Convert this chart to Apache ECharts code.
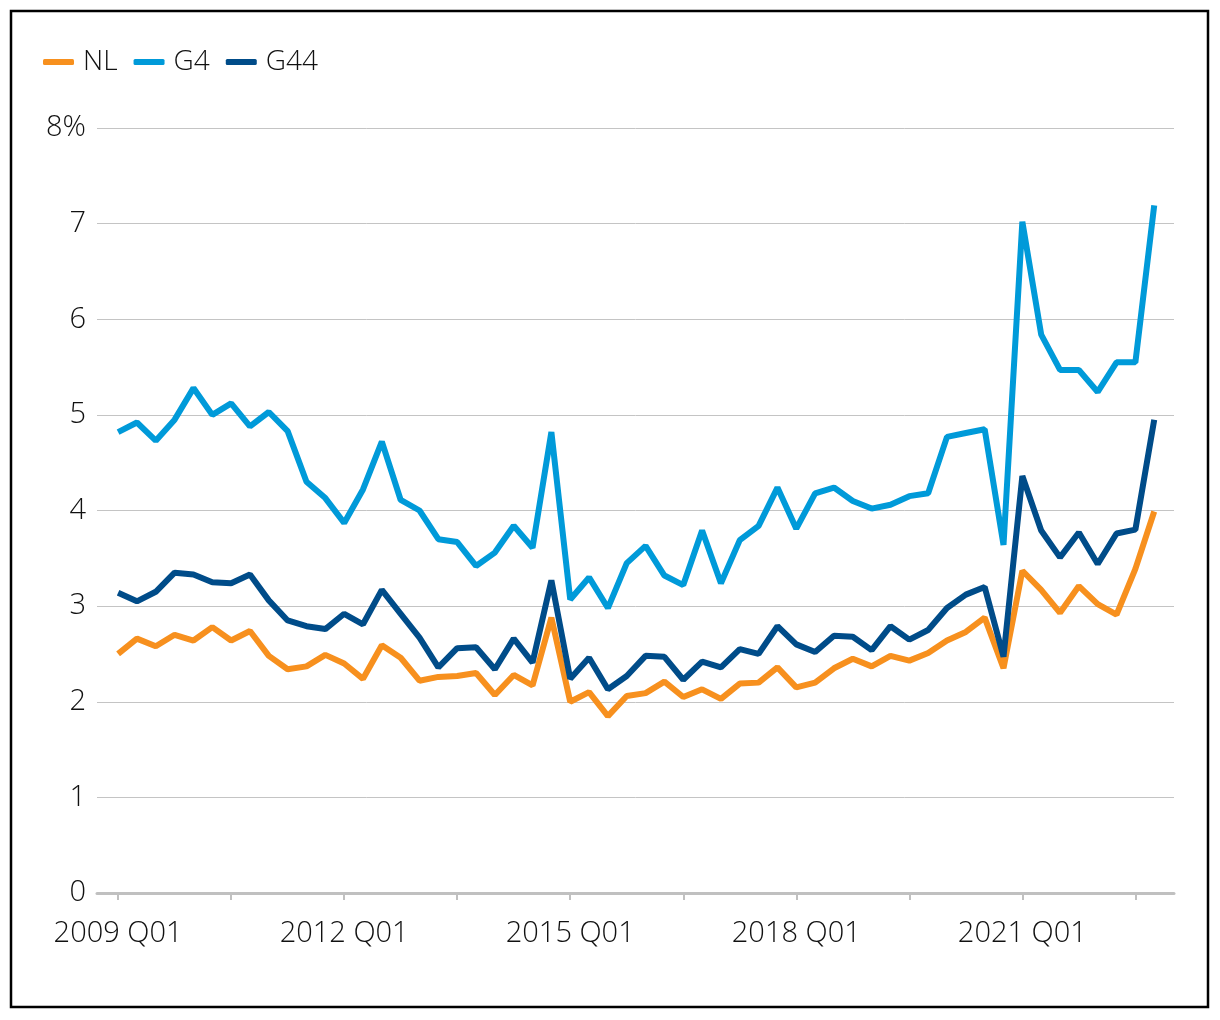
<!DOCTYPE html>
<html>
<head>
<meta charset="utf-8">
<script src="https://cdn.jsdelivr.net/npm/echarts@6/dist/echarts.min.js"></script>
<style>
html,body{margin:0;padding:0;background:#fff;}
#chart{width:1220px;height:1020px;}
</style>
</head>
<body>
<div id="chart"></div>
<script>
var categories = [
  "2009 Q01","2009 Q02","2009 Q03","2009 Q04",
  "2010 Q01","2010 Q02","2010 Q03","2010 Q04",
  "2011 Q01","2011 Q02","2011 Q03","2011 Q04",
  "2012 Q01","2012 Q02","2012 Q03","2012 Q04",
  "2013 Q01","2013 Q02","2013 Q03","2013 Q04",
  "2014 Q01","2014 Q02","2014 Q03","2014 Q04",
  "2015 Q01","2015 Q02","2015 Q03","2015 Q04",
  "2016 Q01","2016 Q02","2016 Q03","2016 Q04",
  "2017 Q01","2017 Q02","2017 Q03","2017 Q04",
  "2018 Q01","2018 Q02","2018 Q03","2018 Q04",
  "2019 Q01","2019 Q02","2019 Q03","2019 Q04",
  "2020 Q01","2020 Q02","2020 Q03","2020 Q04",
  "2021 Q01","2021 Q02","2021 Q03","2021 Q04",
  "2022 Q01","2022 Q02","2022 Q03","2022 Q04"
];

var nl = [
  2.50,2.66,2.58,2.70,2.64,2.78,2.64,2.74,2.48,2.34,2.37,2.49,
  2.40,2.24,2.59,2.46,2.22,2.26,2.27,2.30,2.07,2.28,2.17,2.88,
  2.00,2.10,1.85,2.06,2.09,2.21,2.05,2.13,2.03,2.19,2.20,2.36,
  2.15,2.20,2.35,2.45,2.37,2.48,2.43,2.51,2.64,2.73,2.88,2.35,
  3.37,3.17,2.93,3.21,3.02,2.91,3.39,3.99
];

var g4 = [
  4.82,4.92,4.73,4.95,5.28,5.00,5.12,4.88,5.03,4.83,4.30,4.13,
  3.87,4.22,4.72,4.11,4.00,3.70,3.67,3.42,3.56,3.84,3.61,4.82,
  3.07,3.30,2.98,3.45,3.63,3.32,3.22,3.79,3.24,3.69,3.84,4.24,
  3.81,4.18,4.24,4.10,4.02,4.06,4.15,4.18,4.77,4.81,4.85,3.64,
  7.02,5.84,5.47,5.47,5.24,5.55,5.55,7.19
];

var g44 = [
  3.14,3.05,3.15,3.35,3.33,3.25,3.24,3.33,3.06,2.85,2.79,2.76,
  2.92,2.81,3.17,2.92,2.67,2.36,2.56,2.57,2.34,2.66,2.41,3.27,
  2.24,2.46,2.13,2.27,2.48,2.47,2.23,2.42,2.36,2.55,2.50,2.79,
  2.60,2.52,2.69,2.68,2.54,2.79,2.65,2.75,2.98,3.12,3.20,2.47,
  4.36,3.79,3.51,3.77,3.44,3.76,3.80,4.95
];

var xTickIdx = [0,6,12,18,24,30,36,42,48,54];
var xLabelIdx = [0,12,24,36,48];

function pairs(arr){ return arr.map(function(v,i){ return [i, v]; }); }

var FONT = '"Open Sans"';
var chart = echarts.init(document.getElementById('chart'), null, {renderer:'canvas'});
chart.setOption({
  animation: false,
  backgroundColor: '#fff',
  textStyle: {fontFamily: FONT},
  graphic: [{
    type: 'rect',
    shape: {x: 11, y: 11, width: 1197, height: 996},
    style: {fill: 'none', stroke: '#000', lineWidth: 2.5},
    z: 100
  }],
  legend: {
    left: 38, top: 43,
    icon: 'roundRect',
    itemWidth: 31, itemHeight: 6,
    itemGap: 16,
    textStyle: {fontFamily: FONT, fontSize: 28, fontWeight: 300, color: '#111', padding: [0,0,0,4]},
    data: ['NL','G4','G44']
  },
  grid: {left: 97, right: 46, top: 128, bottom: 127, containLabel: false},
  xAxis: {
    type: 'value',
    min: -1.12, max: 56.05,
    axisLine: {show: true, lineStyle: {color: '#c0c0c0', width: 3}},
    axisTick: {show: true, customValues: xTickIdx, length: 7, lineStyle: {color: '#c0c0c0', width: 2}},
    axisLabel: {
      customValues: xLabelIdx,
      margin: 26,
      fontFamily: FONT, fontSize: 29, fontWeight: 300, color: '#111',
      formatter: function(v){ return categories[Math.round(v)]; }
    },
    splitLine: {show: false}
  },
  yAxis: {
    type: 'value',
    min: 0, max: 8, interval: 1,
    axisLine: {show: false},
    axisTick: {show: false},
    axisLabel: {
      margin: 11,
      fontFamily: FONT, fontSize: 29, fontWeight: 300, color: '#111',
      formatter: function(v){ return v === 8 ? '8%' : String(v); }
    },
    splitLine: {lineStyle: {color: '#c4c4c4', width: 1}}
  },
  series: [
    {name: 'NL', type: 'line', data: pairs(nl), symbol: 'none',
     itemStyle: {color: '#F7901E'}, lineStyle: {color: '#F7901E', width: 6}},
    {name: 'G4', type: 'line', data: pairs(g4), symbol: 'none',
     itemStyle: {color: '#009AD9'}, lineStyle: {color: '#009AD9', width: 6}},
    {name: 'G44', type: 'line', data: pairs(g44), symbol: 'none',
     itemStyle: {color: '#004C89'}, lineStyle: {color: '#004C89', width: 6}}
  ]
});
</script>
</body>
</html>
